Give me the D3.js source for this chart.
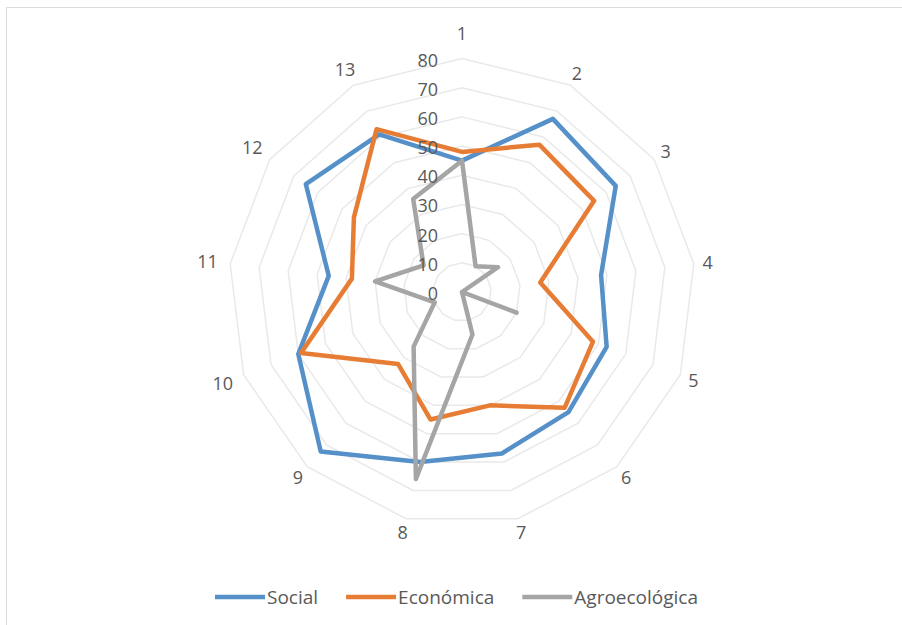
<!DOCTYPE html>
<html>
<head>
<meta charset="utf-8">
<script src="https://cdn.jsdelivr.net/npm/d3@7"></script>
<style>
  html, body { margin: 0; padding: 0; background: #fff; }
  svg { display: block; }
  text { font-family: "Open Sans", "DejaVu Sans", sans-serif; fill: #595959; }
</style>
</head>
<body>
<svg id="chart" width="902" height="625"></svg>
<script>
const categories = ["1","2","3","4","5","6","7","8","9","10","11","12","13"];
const social       = [45, 67, 64, 48, 53, 55, 57, 60, 73, 60, 46, 65, 61];
const economica    = [48, 57, 55, 27, 48, 53, 40, 45, 33, 59, 38, 45, 63];
const agroecologica= [45, 10, 15,  0, 20,  0, 15, 66, 25, 10, 30, 16, 36];
const tickValues   = [0, 10, 20, 30, 40, 50, 60, 70, 80];
const seriesNames  = ["Social", "Económica", "Agroecológica"];
const seriesColors = ["#5690c8", "#e77d35", "#a5a5a5"];

const series = [social, economica, agroecologica];

const svg = d3.select("#chart");
const W = 902, H = 625;
const cx = 462, cy = 292, R = 233.5;

// chart border
svg.append("rect")
  .attr("x", 6.5).attr("y", 7.5)
  .attr("width", W).attr("height", H)
  .attr("fill", "none").attr("stroke", "#dcdcdc").attr("stroke-width", 1);

const r = d3.scaleLinear().domain([0, 80]).range([0, R]);
const ang = d3.scaleLinear().domain([0, categories.length]).range([0, 2 * Math.PI]);

const px = (i, v) => cx + r(v) * Math.sin(ang(i));
const py = (i, v) => cy - r(v) * Math.cos(ang(i));

const g = svg.append("g");

// grid rings
const ringLine = d3.line().curve(d3.curveLinearClosed);
tickValues.filter(t => t > 0).forEach(t => {
  const pts = categories.map((c, i) => [px(i, t), py(i, t)]);
  g.append("path")
    .attr("d", ringLine(pts))
    .attr("fill", "none")
    .attr("stroke", "#e9e9e9")
    .attr("stroke-width", 1.5);
});

// series
const line = d3.line().curve(d3.curveLinearClosed);
series.forEach((vals, s) => {
  const pts = vals.map((v, i) => [px(i, v), py(i, v)]);
  g.append("path")
    .attr("d", line(pts))
    .attr("fill", "none")
    .attr("stroke", seriesColors[s])
    .attr("stroke-width", 4.5)
    .attr("stroke-linejoin", "round");
});

// tick labels
g.selectAll("text.tick")
  .data(tickValues)
  .enter().append("text")
  .attr("class", "tick")
  .attr("x", cx - 24)
  .attr("y", d => cy - r(d) + 1)
  .attr("text-anchor", "end")
  .attr("dominant-baseline", "central")
  .style("font-size", "18px")
  .text(d => d);

// category labels
g.selectAll("text.cat")
  .data(categories)
  .enter().append("text")
  .attr("class", "cat")
  .each(function(d, i) {
    const a = ang(i);
    const rl = R + 14 + (d.length - 1) * 9 * Math.abs(Math.sin(a)) + (i === 0 ? 12 : 0);
    d3.select(this)
      .attr("x", cx + rl * Math.sin(a))
      .attr("y", cy - rl * Math.cos(a));
  })
  .attr("text-anchor", "middle")
  .attr("dominant-baseline", "central")
  .style("font-size", "18px")
  .text(d => d);

// legend
const legend = svg.append("g");
const swatch = 50, gapText = 2, gapItem = 28, ly = 597;
const items = seriesNames.map((n, s) => {
  const gi = legend.append("g");
  gi.append("line")
    .attr("x1", 0).attr("x2", swatch)
    .attr("y1", 0).attr("y2", 0)
    .attr("stroke", seriesColors[s]).attr("stroke-width", 4.5);
  const t = gi.append("text")
    .attr("x", swatch + gapText).attr("y", 0)
    .attr("dominant-baseline", "central")
    .style("font-size", "19px")
    .text(n);
  return { gi, w: swatch + gapText + t.node().getComputedTextLength() };
});
const total = d3.sum(items, d => d.w) + gapItem * (items.length - 1);
let x0 = 456.5 - total / 2;
items.forEach(it => {
  it.gi.attr("transform", `translate(${x0},${ly})`);
  x0 += it.w + gapItem;
});
</script>
</body>
</html>
